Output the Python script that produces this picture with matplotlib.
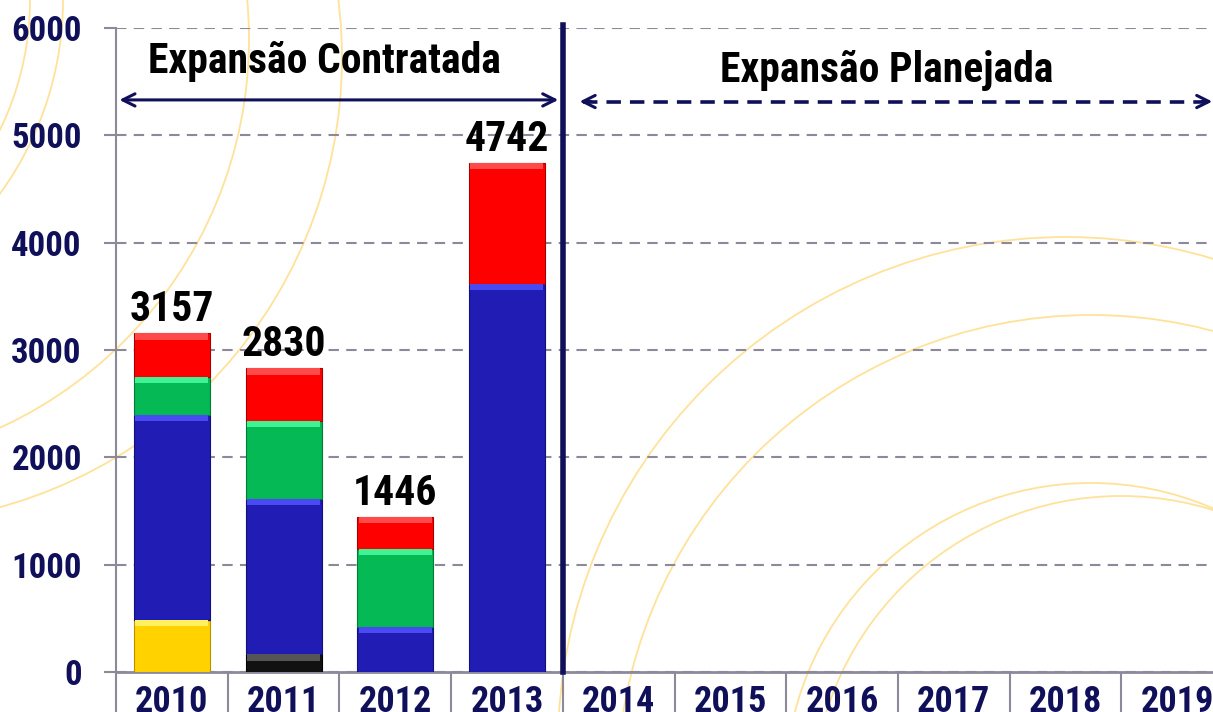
import numpy as np
import matplotlib
matplotlib.use("Agg")
import matplotlib.pyplot as plt
from matplotlib import font_manager
from matplotlib.patches import Circle

years = ["2010", "2011", "2012", "2013", "2014", "2015", "2016", "2017", "2018", "2019"]
yellow = [485, 0, 0, 0]
black = [0, 165, 0, 0]
blue = [1910, 1447, 422, 3619]
green = [357, 727, 724, 0]
red = [405, 491, 300, 1123]
totals = [3157, 2830, 1446, 4742]
y_ticks = [0, 1000, 2000, 3000, 4000, 5000, 6000]

# narrow bold font, pick the first one that is installed with a bold face
fonts = font_manager.fontManager.ttflist
FONT = "Liberation Sans"
for cand in ["Liberation Sans Narrow", "Arial Narrow", "Roboto Condensed", "PT Sans Narrow",
             "Archivo Narrow", "Sofia Sans Condensed", "Asap Condensed", "Saira SemiCondensed"]:
    if any(f.name == cand and f.weight in (700, "bold") for f in fonts):
        FONT = cand
        break
plt.rcParams["font.family"] = [FONT, "DejaVu Sans"]
plt.rcParams["font.weight"] = "bold"

NAVY = "#10105a"
GRID = "#8c8a9a"
ARC = "#ffe29a"

fig = plt.figure(figsize=(12.13, 7.12), dpi=100, facecolor="white")

# background decoration
bg = fig.add_axes([0, 0, 1, 1], zorder=0)
bg.set_xlim(0, 1213)
bg.set_ylim(712, 0)
bg.axis("off")
for cx, cy, r in [(-266, 0, 329), (-266, 0, 296), (-179, 39, 428), (-124, 58, 466),
                  (1066, 745, 508), (1091, 789, 474), (1091, 789, 306), (1121, 805, 309)]:
    bg.add_patch(Circle((cx, cy), r, fill=False, color=ARC, lw=1.3))

ax = fig.add_axes([116 / 1213, 40 / 712, 1 - 116 / 1213, 644 / 712], zorder=1)
ax.patch.set_alpha(0)

x = np.arange(len(totals))
w = 0.68
segments = [
    (yellow, "#ffd200", "#fff060", "#b89200"),
    (black, "#111111", "#555555", "#000000"),
    (blue, "#201cb4", "#4a4af2", "#14107a"),
    (green, "#05b955", "#3ff294", "#037a38"),
    (red, "#ff0000", "#ff4a4a", "#a80000"),
]
bottom = np.zeros(len(totals))
for vals, col, light, dark in segments:
    vals = np.array(vals, dtype=float)
    ax.bar(x, vals, w, bottom=bottom, color=col, edgecolor=dark, linewidth=0.8, zorder=3)
    top = bottom + vals
    band = np.where(vals > 0, np.minimum(vals, 60), 0)
    ax.bar(x, band, w * 0.96, bottom=top - band, color=light, linewidth=0, zorder=4)
    bottom = top

for xi, t in zip(x, totals):
    ax.annotate(str(t), (xi, t), xytext=(0, 8.5), textcoords="offset points",
                ha="center", va="baseline", fontsize=30, fontweight="bold", color="black", zorder=5)

ax.set_yticks(y_ticks)
ax.set_xticks(np.arange(len(years)))
ax.set_xticklabels(years)
ax.set_xticks(np.arange(len(years) + 1) - 0.5, minor=True)
# limits after the ticks, set_xticks would widen them
ax.set_xlim(-0.5, -0.5 + 1097 / 111.7)
ax.set_ylim(0, 6000)
ax.yaxis.grid(True, color=GRID, linestyle=(0, (5, 3.5)), linewidth=1.5, zorder=0)
ax.set_axisbelow(True)

ax.tick_params(axis="y", labelsize=25, labelcolor=NAVY, color=GRID, length=8.6, width=1.5, pad=16)
ax.tick_params(axis="x", which="major", labelsize=26, labelcolor=NAVY, length=0, pad=8.5)
ax.tick_params(axis="x", which="minor", color=GRID, length=30, width=1.5)
for lab in ax.get_xticklabels() + ax.get_yticklabels():
    lab.set_fontweight("bold")

for s in ["top", "right"]:
    ax.spines[s].set_visible(False)
ax.spines["left"].set_color(GRID)
ax.spines["left"].set_linewidth(1.5)
ax.spines["bottom"].set_color(GRID)
ax.spines["bottom"].set_linewidth(2)

# divider between contracted and planned expansion
ax.plot([3.5, 3.5], [0, 6030], color=NAVY, lw=4, clip_on=False, zorder=6)

ax.annotate("", xy=(-0.47, 5330), xytext=(3.46, 5330),
            arrowprops=dict(arrowstyle="<->", color=NAVY, lw=2.2, mutation_scale=22,
                            shrinkA=0, shrinkB=0), zorder=6)
ax.plot([3.68, 9.29], [5315, 5315], color=NAVY, lw=2.6, linestyle=(0, (4, 2.5)), zorder=6)
ax.annotate("", xy=(3.65, 5315), xytext=(3.75, 5315),
            arrowprops=dict(arrowstyle="->", color=NAVY, lw=2.2, mutation_scale=22,
                            shrinkA=0, shrinkB=0), zorder=6)
ax.annotate("", xy=(9.315, 5315), xytext=(9.22, 5315),
            arrowprops=dict(arrowstyle="->", color=NAVY, lw=2.2, mutation_scale=22,
                            shrinkA=0, shrinkB=0), zorder=6, annotation_clip=False)

ax.text(1.37, 5690, "Expansão Contratada", ha="center", va="center",
        fontsize=30, fontweight="bold", color="black", zorder=6)
ax.text(6.40, 5605, "Expansão Planejada", ha="center", va="center",
        fontsize=30, fontweight="bold", color="black", zorder=6)

fig.savefig("out.png", dpi=100)
